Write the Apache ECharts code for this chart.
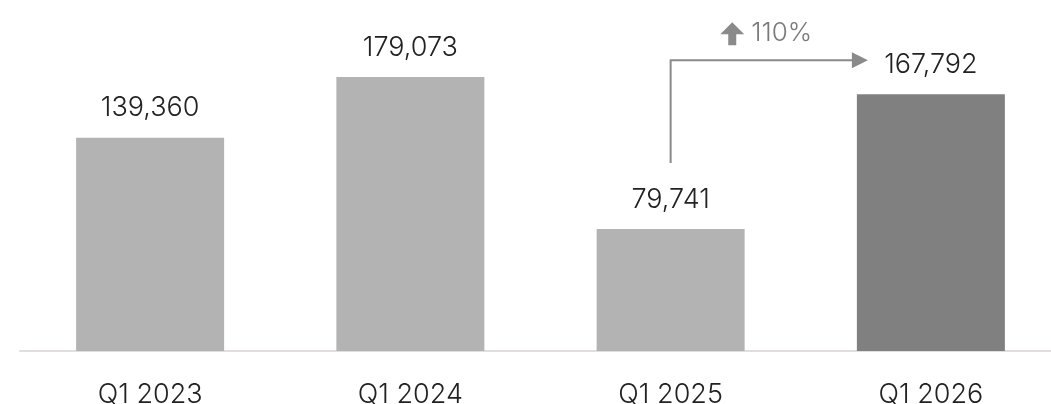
<!DOCTYPE html>
<html>
<head>
<meta charset="utf-8">
<script src="https://cdn.jsdelivr.net/npm/echarts@6/dist/echarts.min.js"></script>
<style>
  html, body { margin: 0; padding: 0; background: #fff; }
  #main { width: 1051px; height: 404px; }
</style>
</head>
<body>
<div id="main"></div>
<script>
var categories = ['Q1 2023', 'Q1 2024', 'Q1 2025', 'Q1 2026'];
var values = [139360, 179073, 79741, 167792];
var barColors = ['#b3b3b3', '#b3b3b3', '#b3b3b3', '#808080'];
var growthLabel = '110%';

var chart = echarts.init(document.getElementById('main'));
var font = 'Inter, "Noto Sans", sans-serif';

chart.setOption({
    animation: false,
    grid: { left: 20, width: 1041, top: 45, bottom: 53, outerBoundsMode: 'none', containLabel: false },
    xAxis: {
        type: 'category',
        data: categories,
        axisLine: { lineStyle: { color: '#e2dede', width: 2 } },
        axisTick: { show: false },
        axisLabel: { color: '#222', fontSize: 27, fontWeight: 300, fontFamily: font, margin: 30 }
    },
    yAxis: {
        type: 'value',
        min: 0,
        max: 200000,
        show: false,
        splitLine: { show: false }
    },
    series: [{
        type: 'bar',
        barWidth: 148,
        data: values.map(function (v, i) {
            return { value: v, itemStyle: { color: barColors[i] } };
        }),
        label: {
            show: true,
            position: 'top',
            distance: 16,
            color: '#222',
            fontSize: 27,
            fontWeight: 300,
            fontFamily: font,
            formatter: function (p) { return p.value.toLocaleString('en-US'); }
        }
    }]
});

// growth arrow from Q1 2025 to Q1 2026
var p3 = chart.convertToPixel({ seriesIndex: 0 }, [2, values[2]]);
var p4 = chart.convertToPixel({ seriesIndex: 0 }, [3, values[3]]);
var x0 = p3[0];
var y0 = p3[1] - 66;
var yTop = p4[1] - 34;
var xTip = p4[0] - 63;
var mid = (x0 + xTip) / 2;
var arrowColor = '#8a8a8a';

chart.setOption({
    graphic: [
        {
            type: 'polyline',
            shape: { points: [[x0, y0], [x0, yTop], [xTip - 14, yTop]] },
            style: { stroke: arrowColor, lineWidth: 2, fill: null }
        },
        {
            type: 'polygon',
            shape: { points: [[xTip - 16, yTop - 8], [xTip, yTop], [xTip - 16, yTop + 8]] },
            style: { fill: arrowColor }
        },
        {
            type: 'polygon',
            shape: {
                points: [
                    [mid - 49, yTop - 26], [mid - 37, yTop - 38], [mid - 25, yTop - 26],
                    [mid - 33, yTop - 26], [mid - 33, yTop - 15], [mid - 41, yTop - 15],
                    [mid - 41, yTop - 26]
                ]
            },
            style: { fill: arrowColor }
        },
        {
            type: 'text',
            x: mid - 18,
            y: yTop - 27,
            style: {
                text: growthLabel,
                fill: '#7a7a7a',
                fontSize: 26,
                fontWeight: 300,
                fontFamily: font,
                textVerticalAlign: 'middle'
            }
        }
    ]
});
</script>
</body>
</html>
